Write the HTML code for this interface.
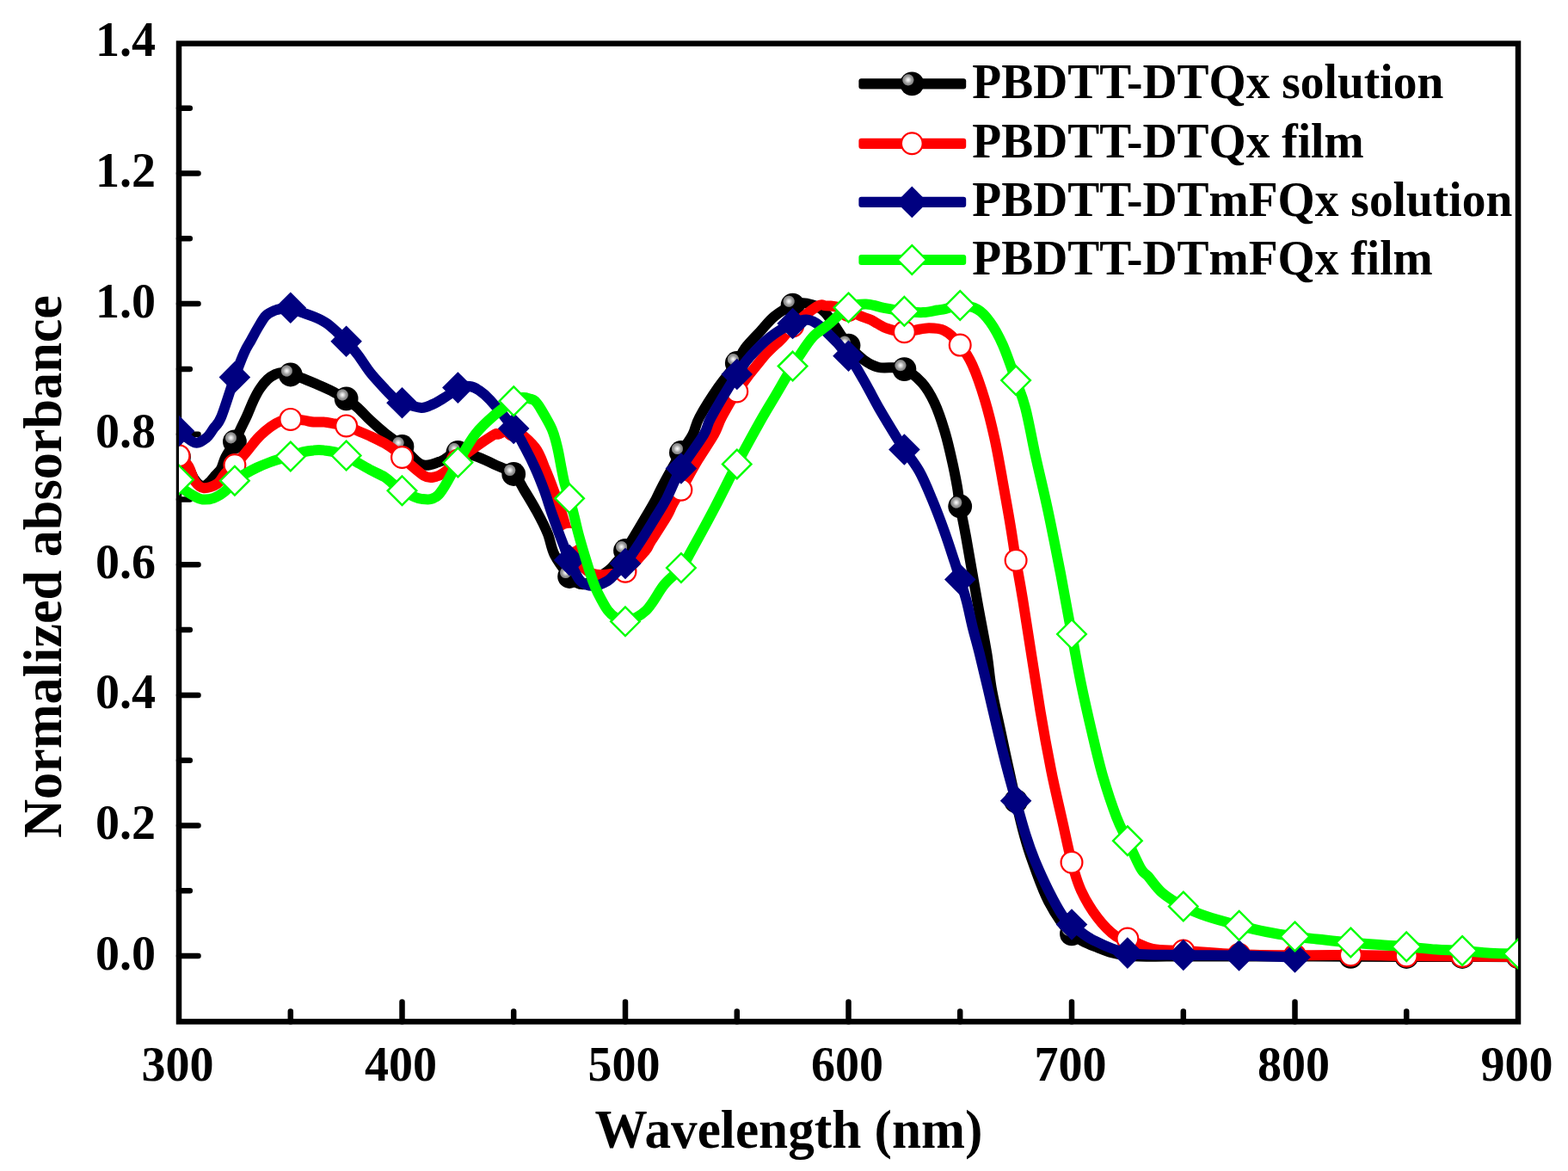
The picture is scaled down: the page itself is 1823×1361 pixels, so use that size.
<!DOCTYPE html>
<html><head><meta charset="utf-8"><title>Normalized absorbance vs wavelength</title>
<style>
html,body{margin:0;padding:0;background:#fff;}
svg{display:block;}
text{font-family:"Liberation Serif", "Times New Roman", serif;font-weight:bold;fill:#000;}
</style></head><body>
<svg width="1823" height="1361" viewBox="0 0 1823 1361">
<defs>
<radialGradient id="ball" cx="0.34" cy="0.34" r="0.25" fx="0.34" fy="0.34">
<stop offset="0" stop-color="#ffffff"/>
<stop offset="0.3" stop-color="#d4d4d4"/>
<stop offset="0.6" stop-color="#9c9c9c"/>
<stop offset="0.85" stop-color="#888888"/>
<stop offset="0.95" stop-color="#444"/>
<stop offset="1" stop-color="#000"/>
</radialGradient>
<clipPath id="plot"><rect x="208" y="50.6" width="1557" height="1136.8"/></clipPath>
</defs>
<rect x="0" y="0" width="1823" height="1361" fill="#fff"/>

<rect x="208.0" y="50.6" width="1557.0" height="1136.8" fill="none" stroke="#000" stroke-width="6.5"/>
<path d="M208.0,1111.1H230.5M208.0,1035.3H220.8M208.0,959.5H230.5M208.0,883.7H220.8M208.0,807.9H230.5M208.0,732.1H220.8M208.0,656.3H230.5M208.0,580.5H220.8M208.0,504.7H230.5M208.0,428.9H220.8M208.0,353.1H230.5M208.0,277.3H220.8M208.0,201.5H230.5M208.0,125.7H220.8M337.8,1187.4V1175.5M467.5,1187.4V1164.4M597.2,1187.4V1175.5M727.0,1187.4V1164.4M856.8,1187.4V1175.5M986.5,1187.4V1164.4M1116.2,1187.4V1175.5M1246.0,1187.4V1164.4M1375.8,1187.4V1175.5M1505.5,1187.4V1164.4M1635.2,1187.4V1175.5" stroke="#000" stroke-width="6.5" stroke-linecap="round" fill="none"/>
<g clip-path="url(#plot)">
<path d="M208.0,531.0 C209.7,532.7 215.0,536.7 218.0,541.0 C221.0,545.3 223.2,553.0 226.0,557.0 C228.8,561.0 232.2,564.3 235.0,565.0 C237.8,565.7 240.5,563.0 243.0,561.0 C245.5,559.0 247.7,555.7 250.0,553.0 C252.3,550.3 255.0,548.5 257.0,545.0 C259.0,541.5 259.5,537.0 262.0,532.0 C264.5,527.0 269.0,520.7 272.0,515.0 C275.0,509.3 277.5,503.3 280.0,498.0 C282.5,492.7 284.6,488.7 287.1,483.2 C289.6,477.7 292.4,470.2 294.9,465.0 C297.4,459.8 299.3,456.0 302.0,452.0 C304.7,448.0 308.0,443.8 311.0,441.0 C314.0,438.2 317.2,436.3 320.0,435.0 C322.8,433.7 325.0,432.9 328.0,433.0 C331.0,433.1 334.1,434.5 337.8,435.5 C341.4,436.5 344.7,437.2 350.0,439.2 C355.3,441.1 364.3,444.9 369.8,447.2 C375.3,449.5 379.4,451.4 383.0,453.1 C386.6,454.8 388.2,455.9 391.3,457.5 C394.4,459.1 397.5,459.9 401.6,462.7 C405.7,465.4 411.2,469.7 416.0,474.0 C420.8,478.3 425.3,483.6 430.4,488.4 C435.5,493.2 440.7,497.7 446.9,502.8 C453.0,507.9 460.3,512.8 467.5,519.0 C474.7,525.2 482.5,537.0 490.0,539.9 C497.5,542.8 505.8,538.4 512.4,536.1 C519.1,533.9 523.3,527.2 529.9,526.2 C536.6,525.1 544.9,527.6 552.4,529.9 C559.9,532.2 567.4,536.4 574.9,539.9 C582.4,543.4 591.4,546.0 597.2,551.0 C603.1,556.0 605.2,562.7 609.7,570.0 C614.2,577.3 619.9,586.7 624.4,595.0 C628.9,603.3 633.3,611.7 636.7,620.0 C640.1,628.3 640.6,636.7 644.8,645.0 C649.0,653.3 657.9,664.7 662.1,670.0 C666.3,675.3 667.0,675.5 670.0,677.0 C673.0,678.5 675.3,680.3 680.0,679.0 C684.7,677.7 693.0,672.5 698.2,669.3 C703.4,666.1 706.2,664.9 711.0,660.0 C715.8,655.1 720.3,650.0 727.0,640.0 C733.7,630.0 745.2,610.0 751.2,600.0 C757.2,590.0 759.1,586.7 762.7,580.0 C766.3,573.3 767.9,568.8 772.7,560.0 C777.5,551.2 785.8,536.2 791.3,527.0 C796.8,517.8 801.8,512.0 805.4,505.0 C809.0,498.0 808.2,494.2 813.2,485.0 C818.2,475.8 827.9,460.5 835.2,450.0 C842.5,439.5 851.6,429.5 856.8,422.0 C861.9,414.5 861.4,411.2 866.0,405.0 C870.6,398.8 878.4,391.2 884.1,385.0 C889.8,378.8 893.9,373.0 900.0,368.0 C906.1,363.0 914.7,357.6 921.0,355.0 C927.3,352.4 931.7,351.2 938.0,352.6 C944.3,354.0 951.2,355.3 959.0,363.1 C966.8,370.9 977.1,390.1 984.6,399.3 C992.1,408.5 997.9,413.5 1004.1,418.2 C1010.3,422.8 1014.1,425.3 1021.7,427.0 C1029.3,428.7 1041.3,425.5 1049.6,428.4 C1058.0,431.4 1065.5,438.0 1071.7,444.6 C1077.8,451.2 1082.0,458.8 1086.4,468.1 C1090.8,477.4 1094.7,489.2 1098.1,500.4 C1101.5,511.7 1104.5,524.9 1106.9,535.7 C1109.4,546.5 1111.3,556.8 1112.8,565.1 C1114.3,573.4 1114.0,575.9 1115.7,585.7 C1117.5,595.5 1119.6,604.8 1123.1,623.9 C1126.5,642.9 1132.3,677.3 1136.4,700.0 C1140.5,722.7 1144.7,743.3 1147.4,760.0 C1150.1,776.7 1150.1,785.0 1152.8,800.0 C1155.5,815.0 1160.2,835.0 1163.4,850.0 C1166.6,865.0 1169.0,876.5 1172.0,890.0 C1175.0,903.5 1178.0,917.7 1181.1,931.0 C1184.2,944.3 1187.4,958.5 1190.6,970.0 C1193.8,981.5 1195.3,987.2 1200.1,1000.2 C1204.8,1013.1 1211.6,1033.6 1219.0,1047.6 C1226.4,1061.5 1234.8,1074.9 1244.3,1083.9 C1253.8,1092.8 1264.8,1096.8 1275.9,1101.3 C1287.0,1105.7 1294.3,1109.0 1311.0,1110.7 C1327.6,1112.4 1354.3,1111.4 1376.0,1111.5 C1397.7,1111.6 1419.4,1111.5 1441.0,1111.5 C1462.6,1111.5 1484.0,1111.5 1505.5,1111.5 C1527.0,1111.5 1548.4,1111.7 1570.0,1111.8 C1591.6,1111.9 1613.3,1112.0 1635.0,1112.0 C1656.7,1112.0 1678.3,1112.0 1700.0,1112.0 C1721.7,1112.0 1754.2,1112.2 1765.0,1112.2" fill="none" stroke="#000000" stroke-width="12" stroke-linejoin="round" stroke-linecap="butt"/>
<circle cx="208.0" cy="531.0" r="13.9" fill="url(#ball)"/>
<circle cx="272.9" cy="513.3" r="13.9" fill="url(#ball)"/>
<circle cx="337.8" cy="435.5" r="13.9" fill="url(#ball)"/>
<circle cx="402.6" cy="463.4" r="13.9" fill="url(#ball)"/>
<circle cx="467.5" cy="519.0" r="13.9" fill="url(#ball)"/>
<circle cx="532.4" cy="525.9" r="13.9" fill="url(#ball)"/>
<circle cx="597.2" cy="551.0" r="13.9" fill="url(#ball)"/>
<circle cx="662.1" cy="670.0" r="13.9" fill="url(#ball)"/>
<circle cx="727.0" cy="640.0" r="13.9" fill="url(#ball)"/>
<circle cx="791.9" cy="526.0" r="13.9" fill="url(#ball)"/>
<circle cx="856.8" cy="422.0" r="13.9" fill="url(#ball)"/>
<circle cx="921.6" cy="354.7" r="13.9" fill="url(#ball)"/>
<circle cx="986.5" cy="401.6" r="13.9" fill="url(#ball)"/>
<circle cx="1051.4" cy="429.1" r="13.9" fill="url(#ball)"/>
<circle cx="1116.2" cy="588.5" r="13.9" fill="url(#ball)"/>
<circle cx="1181.1" cy="931.1" r="13.9" fill="url(#ball)"/>
<circle cx="1246.0" cy="1085.4" r="13.9" fill="url(#ball)"/>
<circle cx="1570.4" cy="1111.8" r="13.9" fill="url(#ball)"/>
<circle cx="1635.2" cy="1112.0" r="13.9" fill="url(#ball)"/>
<circle cx="1700.1" cy="1112.0" r="13.9" fill="url(#ball)"/>
<circle cx="1765.0" cy="1112.2" r="13.9" fill="url(#ball)"/>
<path d="M208.0,529.8 C209.8,531.8 215.9,536.8 219.0,541.7 C222.1,546.6 223.5,555.1 226.5,559.4 C229.5,563.7 232.6,566.9 237.0,567.3 C241.4,567.7 248.8,564.8 252.9,562.0 C257.0,559.2 258.4,554.1 261.7,550.5 C265.0,546.9 269.5,543.8 272.9,540.5 C276.3,537.2 278.8,534.3 282.0,530.6 C285.2,526.9 288.8,522.4 292.0,518.5 C295.2,514.6 297.6,511.1 301.3,507.4 C305.1,503.7 310.4,499.1 314.5,496.1 C318.6,493.1 322.3,491.0 326.0,489.5 C329.7,488.0 332.4,487.6 336.8,487.4 C341.2,487.2 347.6,487.9 352.2,488.4 C356.9,488.9 360.5,490.1 364.6,490.5 C368.7,490.8 372.8,490.1 376.9,490.5 C381.0,490.8 385.1,491.8 389.3,492.5 C393.4,493.2 397.1,493.2 401.6,494.6 C406.1,495.9 411.2,498.7 416.0,500.7 C420.8,502.8 425.3,504.5 430.4,506.9 C435.5,509.3 442.1,512.4 446.9,515.1 C451.7,517.9 455.9,520.8 459.2,523.4 C462.5,525.9 460.8,525.7 466.4,530.6 C472.0,535.5 486.3,548.9 492.9,552.8 C499.5,556.7 502.2,554.7 506.1,554.1 C510.0,553.5 511.7,552.6 516.1,549.4 C520.5,546.2 526.4,539.8 532.4,534.9 C538.5,530.0 545.3,524.9 552.4,519.9 C559.5,514.9 570.4,507.5 574.9,504.9 C579.4,502.4 575.7,505.6 579.4,504.7 C583.1,503.8 590.1,496.9 597.2,499.5 C604.4,502.1 616.0,512.4 622.1,520.0 C628.2,527.6 630.3,536.7 633.9,545.0 C637.5,553.3 640.7,561.7 643.8,570.0 C646.9,578.3 649.5,585.8 652.6,595.0 C655.7,604.2 659.0,617.3 662.1,625.0 C665.2,632.7 668.7,635.8 671.0,641.0 C673.3,646.2 673.7,652.0 676.0,656.0 C678.3,660.0 681.5,663.0 685.0,665.0 C688.5,667.0 692.8,667.7 697.0,668.0 C701.2,668.3 705.0,667.6 710.0,667.0 C715.0,666.4 720.3,668.8 727.0,664.3 C733.7,659.8 745.5,645.7 750.4,640.0 C755.3,634.3 752.1,636.7 756.3,630.0 C760.5,623.3 771.1,607.3 775.4,600.0 C779.7,592.7 779.2,591.4 782.0,586.3 C784.8,581.2 787.0,577.8 791.9,569.3 C796.8,560.8 804.8,545.7 811.2,535.0 C817.6,524.3 825.5,513.3 830.1,505.0 C834.8,496.7 834.7,493.3 839.1,485.0 C843.5,476.7 848.7,466.7 856.8,455.0 C864.8,443.3 878.7,425.3 887.5,415.0 C896.3,404.7 903.8,399.3 909.5,393.3 C915.2,387.3 914.9,385.2 921.6,379.0 C928.3,372.8 943.5,360.2 949.9,356.2 C956.2,352.2 956.0,355.1 959.7,355.2 C963.4,355.2 967.5,355.6 972.0,356.5 C976.5,357.4 982.0,358.8 986.5,360.5 C991.0,362.2 995.0,365.0 999.2,366.8 C1003.5,368.6 1008.5,370.0 1012.0,371.5 C1015.5,373.0 1016.8,374.3 1020.0,376.0 C1023.2,377.7 1026.2,380.1 1031.3,381.7 C1036.4,383.3 1042.8,385.9 1050.5,385.8 C1058.2,385.8 1069.6,381.7 1077.5,381.4 C1085.5,381.2 1091.7,381.2 1098.1,384.4 C1104.5,387.5 1110.4,393.9 1115.7,400.5 C1121.1,407.1 1125.5,413.3 1130.4,424.0 C1135.3,434.8 1140.7,450.5 1145.1,465.2 C1149.5,479.9 1153.5,496.5 1156.9,512.2 C1160.3,527.9 1162.8,543.0 1165.7,559.2 C1168.6,575.4 1172.0,594.0 1174.5,609.2 C1177.1,624.3 1178.5,635.6 1181.0,650.3 C1183.4,665.0 1184.4,668.0 1189.2,697.3 C1194.0,726.7 1204.0,793.3 1209.5,826.4 C1215.0,859.5 1218.0,874.8 1222.2,895.9 C1226.4,917.0 1230.9,935.1 1234.8,952.8 C1238.8,970.4 1242.2,988.0 1245.9,1001.7 C1249.6,1015.4 1251.9,1024.1 1256.9,1034.9 C1261.9,1045.7 1269.0,1057.6 1275.9,1066.5 C1282.7,1075.5 1292.2,1084.5 1298.0,1088.6 C1303.9,1092.7 1304.0,1088.6 1311.0,1091.0 C1318.0,1093.4 1329.2,1100.5 1340.0,1102.8 C1350.9,1105.2 1359.2,1103.9 1376.0,1105.0 C1392.8,1106.1 1419.5,1108.4 1441.0,1109.3 C1462.5,1110.2 1483.5,1110.2 1505.0,1110.3 C1526.5,1110.4 1548.3,1109.9 1570.0,1110.0 C1591.7,1110.1 1613.3,1110.8 1635.0,1111.0 C1656.7,1111.2 1678.3,1111.3 1700.0,1111.5 C1721.7,1111.7 1754.2,1111.9 1765.0,1112.0" fill="none" stroke="#ff0000" stroke-width="12" stroke-linejoin="round" stroke-linecap="butt"/>
<circle cx="208.0" cy="529.8" r="12.4" fill="#fff" stroke="#ff0000" stroke-width="2.2"/>
<circle cx="272.9" cy="540.5" r="12.4" fill="#fff" stroke="#ff0000" stroke-width="2.2"/>
<circle cx="337.8" cy="487.4" r="12.4" fill="#fff" stroke="#ff0000" stroke-width="2.2"/>
<circle cx="402.6" cy="494.9" r="12.4" fill="#fff" stroke="#ff0000" stroke-width="2.2"/>
<circle cx="467.5" cy="531.5" r="12.4" fill="#fff" stroke="#ff0000" stroke-width="2.2"/>
<circle cx="532.4" cy="534.9" r="12.4" fill="#fff" stroke="#ff0000" stroke-width="2.2"/>
<circle cx="597.2" cy="499.5" r="12.4" fill="#fff" stroke="#ff0000" stroke-width="2.2"/>
<circle cx="662.1" cy="625.1" r="12.4" fill="#fff" stroke="#ff0000" stroke-width="2.2"/>
<circle cx="727.0" cy="664.3" r="12.4" fill="#fff" stroke="#ff0000" stroke-width="2.2"/>
<circle cx="791.9" cy="569.3" r="12.4" fill="#fff" stroke="#ff0000" stroke-width="2.2"/>
<circle cx="856.8" cy="455.0" r="12.4" fill="#fff" stroke="#ff0000" stroke-width="2.2"/>
<circle cx="921.6" cy="379.0" r="12.4" fill="#fff" stroke="#ff0000" stroke-width="2.2"/>
<circle cx="986.5" cy="360.5" r="12.4" fill="#fff" stroke="#ff0000" stroke-width="2.2"/>
<circle cx="1051.4" cy="385.8" r="12.4" fill="#fff" stroke="#ff0000" stroke-width="2.2"/>
<circle cx="1116.2" cy="401.1" r="12.4" fill="#fff" stroke="#ff0000" stroke-width="2.2"/>
<circle cx="1181.1" cy="651.2" r="12.4" fill="#fff" stroke="#ff0000" stroke-width="2.2"/>
<circle cx="1246.0" cy="1002.2" r="12.4" fill="#fff" stroke="#ff0000" stroke-width="2.2"/>
<circle cx="1310.9" cy="1091.0" r="12.4" fill="#fff" stroke="#ff0000" stroke-width="2.2"/>
<circle cx="1375.8" cy="1105.0" r="12.4" fill="#fff" stroke="#ff0000" stroke-width="2.2"/>
<circle cx="1440.6" cy="1109.3" r="12.4" fill="#fff" stroke="#ff0000" stroke-width="2.2"/>
<circle cx="1505.5" cy="1110.3" r="12.4" fill="#fff" stroke="#ff0000" stroke-width="2.2"/>
<circle cx="1570.4" cy="1110.0" r="12.4" fill="#fff" stroke="#ff0000" stroke-width="2.2"/>
<circle cx="1635.2" cy="1111.0" r="12.4" fill="#fff" stroke="#ff0000" stroke-width="2.2"/>
<circle cx="1700.1" cy="1111.5" r="12.4" fill="#fff" stroke="#ff0000" stroke-width="2.2"/>
<circle cx="1765.0" cy="1112.0" r="12.4" fill="#fff" stroke="#ff0000" stroke-width="2.2"/>
<path d="M208.0,501.0 C211.1,503.2 221.2,513.0 226.5,514.4 C231.7,515.7 236.0,511.9 239.7,509.1 C243.4,506.3 245.6,501.8 248.5,497.6 C251.4,493.5 253.2,494.3 257.3,484.4 C261.4,474.5 268.6,450.4 273.0,438.0 C277.5,425.6 280.8,417.0 283.9,410.0 C287.0,403.0 288.9,400.8 291.7,395.8 C294.4,390.8 297.5,384.8 300.4,380.0 C303.3,375.2 305.9,370.2 309.0,367.0 C312.2,363.8 316.2,362.2 319.3,360.9 C322.4,359.5 324.5,359.3 327.5,358.8 C330.6,358.3 333.6,357.1 337.4,357.8 C341.2,358.5 345.6,361.2 350.2,362.9 C354.7,364.6 359.8,366.0 364.6,368.1 C369.4,370.1 374.5,372.3 379.0,375.3 C383.4,378.2 387.4,381.9 391.3,385.5 C395.3,389.1 398.5,392.4 402.6,396.9 C406.7,401.3 411.4,406.3 416.0,412.3 C420.6,418.3 425.3,426.3 430.4,432.9 C435.5,439.4 442.1,446.2 446.9,451.4 C451.7,456.5 455.9,461.0 459.2,463.7 C462.5,466.5 461.3,466.1 466.4,467.8 C471.5,469.5 483.7,473.6 489.8,473.9 C495.9,474.2 499.2,471.5 503.1,469.9 C507.0,468.3 509.7,466.5 513.0,464.5 C516.3,462.5 519.8,460.3 523.0,458.0 C526.2,455.7 528.6,452.1 532.4,450.6 C536.2,449.1 542.1,448.6 546.0,449.0 C549.9,449.4 552.0,450.4 556.0,453.1 C560.0,455.8 563.0,457.5 569.9,465.0 C576.8,472.4 590.5,488.8 597.2,498.0 C604.0,507.2 606.0,512.2 610.2,520.0 C614.4,527.8 618.9,536.7 622.6,545.0 C626.4,553.3 629.6,561.7 632.7,570.0 C635.8,578.3 638.1,586.7 641.0,595.0 C643.9,603.3 647.4,613.0 650.0,620.0 C652.6,627.0 654.5,631.8 656.5,637.0 C658.5,642.2 659.1,644.7 662.1,651.0 C665.1,657.3 670.0,670.0 674.6,675.0 C679.2,680.0 684.7,681.0 690.0,681.0 C695.3,681.0 702.3,677.5 706.6,675.0 C710.9,672.5 712.6,669.3 716.0,666.0 C719.4,662.7 722.3,661.0 727.0,655.0 C731.7,649.0 738.2,639.2 744.2,630.0 C750.2,620.8 757.7,608.3 762.8,600.0 C767.9,591.7 769.9,589.2 774.8,580.0 C779.6,570.8 784.6,557.0 791.9,544.5 C799.1,532.0 812.5,514.9 818.3,505.0 C824.1,495.1 820.4,496.7 826.8,485.0 C833.2,473.3 849.3,446.7 856.8,435.0 C864.2,423.3 865.1,422.2 871.5,415.0 C877.9,407.8 886.6,398.5 895.0,392.0 C903.4,385.5 913.9,379.3 921.6,376.0 C929.3,372.7 934.8,370.7 941.0,372.0 C947.2,373.3 951.4,377.0 959.0,384.0 C966.6,391.0 979.0,404.2 986.5,413.8 C994.0,423.4 998.2,431.6 1004.1,441.7 C1009.9,451.7 1015.8,463.7 1021.7,474.0 C1027.6,484.3 1034.4,495.3 1039.3,503.4 C1044.3,511.5 1046.5,515.1 1051.4,522.5 C1056.3,529.8 1063.4,537.9 1068.7,547.5 C1074.1,557.0 1078.5,568.0 1083.4,579.8 C1088.3,591.5 1093.7,605.7 1098.1,618.0 C1102.5,630.2 1106.8,643.9 1109.9,653.2 C1112.9,662.5 1114.0,666.0 1116.3,673.8 C1118.7,681.6 1121.7,690.6 1124.1,700.0 C1126.5,709.4 1128.5,720.0 1131.0,730.0 C1133.5,740.0 1136.0,748.3 1138.9,760.0 C1141.8,771.7 1145.0,785.0 1148.5,800.0 C1152.0,815.0 1156.6,835.0 1160.2,850.0 C1163.8,865.0 1166.5,876.6 1170.0,890.0 C1173.5,903.4 1177.4,917.3 1181.1,930.6 C1184.8,943.9 1188.7,958.4 1192.4,970.0 C1196.1,981.6 1198.8,989.3 1203.2,1000.2 C1207.7,1011.0 1213.8,1024.4 1219.0,1034.9 C1224.3,1045.4 1230.3,1056.8 1234.8,1063.3 C1239.3,1069.9 1240.1,1069.7 1245.9,1074.4 C1251.7,1079.1 1258.7,1086.3 1269.6,1091.8 C1280.4,1097.3 1293.2,1104.5 1311.0,1107.6 C1328.7,1110.6 1354.4,1109.5 1376.0,1110.0 C1397.6,1110.5 1419.0,1110.1 1440.6,1110.5 C1462.2,1110.9 1494.7,1112.2 1505.5,1112.5" fill="none" stroke="#000080" stroke-width="12" stroke-linejoin="round" stroke-linecap="butt"/>
<path d="M208.0,482.7L226.3,501.0L208.0,519.3L189.7,501.0Z" fill="#000080"/>
<path d="M272.9,420.1L291.2,438.4L272.9,456.7L254.6,438.4Z" fill="#000080"/>
<path d="M337.8,339.5L356.1,357.8L337.8,376.1L319.4,357.8Z" fill="#000080"/>
<path d="M402.6,378.5L420.9,396.8L402.6,415.1L384.3,396.8Z" fill="#000080"/>
<path d="M467.5,449.9L485.8,468.2L467.5,486.5L449.2,468.2Z" fill="#000080"/>
<path d="M532.4,432.3L550.7,450.6L532.4,468.9L514.1,450.6Z" fill="#000080"/>
<path d="M597.2,479.7L615.5,498.0L597.2,516.3L579.0,498.0Z" fill="#000080"/>
<path d="M662.1,632.8L680.4,651.1L662.1,669.4L643.8,651.1Z" fill="#000080"/>
<path d="M727.0,636.7L745.3,655.0L727.0,673.3L708.7,655.0Z" fill="#000080"/>
<path d="M791.9,526.2L810.2,544.5L791.9,562.8L773.6,544.5Z" fill="#000080"/>
<path d="M856.8,416.7L875.0,435.0L856.8,453.3L838.5,435.0Z" fill="#000080"/>
<path d="M921.6,357.7L939.9,376.0L921.6,394.3L903.3,376.0Z" fill="#000080"/>
<path d="M986.5,395.5L1004.8,413.8L986.5,432.1L968.2,413.8Z" fill="#000080"/>
<path d="M1051.4,504.2L1069.7,522.5L1051.4,540.8L1033.1,522.5Z" fill="#000080"/>
<path d="M1116.2,655.2L1134.5,673.5L1116.2,691.8L1098.0,673.5Z" fill="#000080"/>
<path d="M1181.1,912.4L1199.4,930.7L1181.1,949.0L1162.8,930.7Z" fill="#000080"/>
<path d="M1246.0,1056.2L1264.3,1074.5L1246.0,1092.8L1227.7,1074.5Z" fill="#000080"/>
<path d="M1310.9,1089.3L1329.2,1107.6L1310.9,1125.9L1292.6,1107.6Z" fill="#000080"/>
<path d="M1375.8,1091.7L1394.0,1110.0L1375.8,1128.3L1357.5,1110.0Z" fill="#000080"/>
<path d="M1440.6,1092.2L1458.9,1110.5L1440.6,1128.8L1422.3,1110.5Z" fill="#000080"/>
<path d="M1505.5,1094.2L1523.8,1112.5L1505.5,1130.8L1487.2,1112.5Z" fill="#000080"/>
<path d="M208.0,557.6 C208.9,559.4 210.1,565.0 213.2,568.2 C216.3,571.4 222.8,575.0 226.5,577.0 C230.2,579.0 231.6,580.2 235.3,580.5 C239.0,580.8 244.1,580.4 248.5,578.8 C252.9,577.2 257.6,574.2 261.7,570.8 C265.8,567.4 268.9,562.1 273.0,558.6 C277.1,555.1 282.1,552.5 286.4,550.0 C290.7,547.5 294.2,545.6 298.7,543.5 C303.1,541.4 308.6,539.2 313.1,537.5 C317.6,535.8 321.4,534.7 325.5,533.5 C329.6,532.3 333.0,531.9 337.4,530.6 C341.9,529.2 347.7,526.6 352.2,525.4 C356.8,524.2 360.5,523.7 364.6,523.4 C368.7,523.0 372.8,523.0 376.9,523.4 C381.0,523.7 385.0,524.4 389.3,525.4 C393.5,526.5 398.2,527.5 402.6,529.5 C407.1,531.6 411.4,535.0 416.0,537.8 C420.6,540.5 425.3,543.3 430.4,546.0 C435.5,548.7 442.4,551.5 446.9,554.2 C451.3,557.0 453.9,559.9 457.1,562.5 C460.4,565.0 460.9,566.8 466.4,569.7 C471.9,572.6 482.7,579.0 490.0,579.9 C497.2,580.7 502.9,581.9 509.9,574.9 C517.0,567.8 525.4,549.1 532.4,537.4 C539.5,525.7 545.3,514.1 552.4,504.9 C559.5,495.8 567.4,488.9 574.9,482.4 C582.4,476.0 591.7,469.6 597.2,466.2 C602.8,462.8 604.9,462.4 608.0,462.0 C611.1,461.6 613.7,462.8 616.0,463.5 C618.3,464.2 619.9,464.0 622.0,466.0 C624.1,468.0 625.5,469.8 628.8,475.3 C632.1,480.8 638.5,491.4 641.7,498.8 C644.9,506.2 646.1,512.3 648.0,520.0 C649.9,527.7 651.5,538.0 652.9,545.0 C654.3,552.0 655.0,556.3 656.5,562.0 C658.0,567.7 660.2,572.9 662.1,579.2 C664.0,585.5 665.9,593.2 667.6,600.0 C669.3,606.8 670.1,611.7 672.4,620.0 C674.6,628.3 678.3,640.8 681.1,650.0 C683.9,659.2 686.8,668.5 689.1,675.0 C691.4,681.5 692.1,683.3 695.0,689.0 C697.9,694.7 703.0,704.5 706.5,709.3 C710.0,714.1 712.6,715.8 716.0,718.0 C719.4,720.2 721.1,723.7 727.0,722.3 C732.9,720.9 743.7,716.6 751.2,709.5 C758.8,702.4 765.5,687.6 772.3,679.4 C779.1,671.1 786.6,666.6 791.9,660.0 C797.2,653.4 797.4,651.7 803.9,640.0 C810.4,628.3 822.2,606.8 831.0,590.0 C839.8,573.2 848.0,556.1 856.8,539.4 C865.5,522.7 876.2,503.4 883.7,490.0 C891.2,476.6 895.8,469.6 902.0,459.0 C908.2,448.4 915.6,435.5 921.1,426.5 C926.6,417.5 930.8,411.1 935.0,405.0 C939.2,398.9 942.0,394.5 946.5,390.0 C951.0,385.5 955.3,383.6 962.0,378.2 C968.7,372.8 979.0,361.6 986.5,357.5 C994.0,353.4 1000.2,353.4 1007.0,353.5 C1013.9,353.6 1020.2,356.5 1027.6,357.9 C1035.0,359.3 1043.8,360.9 1051.4,361.8 C1059.0,362.7 1066.8,363.3 1073.2,363.1 C1079.6,362.9 1085.4,361.2 1089.8,360.5 C1094.2,359.8 1095.3,359.7 1099.7,358.8 C1104.1,357.9 1110.2,354.9 1116.3,355.0 C1122.4,355.1 1130.5,356.2 1136.3,359.4 C1142.1,362.6 1146.1,367.2 1151.0,374.1 C1155.9,380.9 1160.7,389.3 1165.7,400.5 C1170.7,411.8 1176.6,429.4 1181.0,441.7 C1185.4,453.9 1188.3,459.3 1192.1,474.0 C1196.0,488.7 1199.5,509.7 1203.9,529.8 C1208.3,549.9 1213.7,571.5 1218.6,594.5 C1223.5,617.5 1228.7,644.3 1233.3,667.9 C1237.8,691.6 1241.9,715.2 1245.9,736.3 C1249.8,757.5 1253.0,775.6 1256.9,794.8 C1260.9,814.0 1265.4,833.8 1269.6,851.7 C1273.8,869.6 1277.5,885.9 1282.2,902.2 C1287.0,918.5 1293.2,937.1 1298.0,949.6 C1302.8,962.1 1306.2,967.4 1311.0,977.4 C1315.7,987.4 1322.5,1002.8 1326.4,1009.6 C1330.4,1016.5 1330.7,1013.9 1334.9,1018.6 C1339.0,1023.3 1344.5,1031.9 1351.3,1037.8 C1358.2,1043.6 1367.3,1049.1 1376.0,1053.7 C1384.7,1058.2 1392.7,1061.5 1403.4,1065.2 C1414.2,1068.9 1429.0,1072.6 1440.4,1075.6 C1451.9,1078.6 1461.1,1080.9 1472.0,1083.0 C1482.8,1085.2 1494.1,1086.9 1505.5,1088.5 C1516.9,1090.1 1529.8,1091.3 1540.6,1092.5 C1551.4,1093.7 1559.9,1094.6 1570.4,1095.5 C1580.9,1096.4 1592.8,1097.3 1603.6,1098.1 C1614.4,1098.9 1624.2,1099.4 1635.2,1100.3 C1646.2,1101.2 1658.6,1102.8 1669.5,1103.6 C1680.3,1104.4 1689.7,1104.3 1700.2,1105.0 C1710.7,1105.7 1721.8,1107.1 1732.6,1107.7 C1743.3,1108.3 1759.5,1108.4 1764.9,1108.5" fill="none" stroke="#00ff00" stroke-width="12" stroke-linejoin="round" stroke-linecap="butt"/>
<path d="M208.0,540.8L224.8,557.6L208.0,574.4L191.2,557.6Z" fill="#fff" stroke="#00ff00" stroke-width="2.4" stroke-linejoin="miter"/>
<path d="M272.9,541.9L289.7,558.7L272.9,575.5L256.1,558.7Z" fill="#fff" stroke="#00ff00" stroke-width="2.4" stroke-linejoin="miter"/>
<path d="M337.8,513.7L354.6,530.5L337.8,547.3L320.9,530.5Z" fill="#fff" stroke="#00ff00" stroke-width="2.4" stroke-linejoin="miter"/>
<path d="M402.6,512.7L419.4,529.5L402.6,546.3L385.8,529.5Z" fill="#fff" stroke="#00ff00" stroke-width="2.4" stroke-linejoin="miter"/>
<path d="M467.5,553.5L484.3,570.3L467.5,587.1L450.7,570.3Z" fill="#fff" stroke="#00ff00" stroke-width="2.4" stroke-linejoin="miter"/>
<path d="M532.4,520.7L549.2,537.5L532.4,554.3L515.6,537.5Z" fill="#fff" stroke="#00ff00" stroke-width="2.4" stroke-linejoin="miter"/>
<path d="M597.2,449.4L614.0,466.2L597.2,483.0L580.5,466.2Z" fill="#fff" stroke="#00ff00" stroke-width="2.4" stroke-linejoin="miter"/>
<path d="M662.1,562.5L678.9,579.3L662.1,596.1L645.3,579.3Z" fill="#fff" stroke="#00ff00" stroke-width="2.4" stroke-linejoin="miter"/>
<path d="M727.0,705.5L743.8,722.3L727.0,739.1L710.2,722.3Z" fill="#fff" stroke="#00ff00" stroke-width="2.4" stroke-linejoin="miter"/>
<path d="M791.9,643.2L808.7,660.0L791.9,676.8L775.1,660.0Z" fill="#fff" stroke="#00ff00" stroke-width="2.4" stroke-linejoin="miter"/>
<path d="M856.8,522.6L873.5,539.4L856.8,556.2L840.0,539.4Z" fill="#fff" stroke="#00ff00" stroke-width="2.4" stroke-linejoin="miter"/>
<path d="M921.6,408.8L938.4,425.6L921.6,442.4L904.8,425.6Z" fill="#fff" stroke="#00ff00" stroke-width="2.4" stroke-linejoin="miter"/>
<path d="M986.5,340.7L1003.3,357.5L986.5,374.3L969.7,357.5Z" fill="#fff" stroke="#00ff00" stroke-width="2.4" stroke-linejoin="miter"/>
<path d="M1051.4,345.0L1068.2,361.8L1051.4,378.6L1034.6,361.8Z" fill="#fff" stroke="#00ff00" stroke-width="2.4" stroke-linejoin="miter"/>
<path d="M1116.2,338.2L1133.0,355.0L1116.2,371.8L1099.5,355.0Z" fill="#fff" stroke="#00ff00" stroke-width="2.4" stroke-linejoin="miter"/>
<path d="M1181.1,425.3L1197.9,442.1L1181.1,458.9L1164.3,442.1Z" fill="#fff" stroke="#00ff00" stroke-width="2.4" stroke-linejoin="miter"/>
<path d="M1246.0,720.2L1262.8,737.0L1246.0,753.8L1229.2,737.0Z" fill="#fff" stroke="#00ff00" stroke-width="2.4" stroke-linejoin="miter"/>
<path d="M1310.9,960.4L1327.7,977.2L1310.9,994.0L1294.1,977.2Z" fill="#fff" stroke="#00ff00" stroke-width="2.4" stroke-linejoin="miter"/>
<path d="M1375.8,1036.7L1392.5,1053.5L1375.8,1070.3L1359.0,1053.5Z" fill="#fff" stroke="#00ff00" stroke-width="2.4" stroke-linejoin="miter"/>
<path d="M1440.6,1058.9L1457.4,1075.7L1440.6,1092.5L1423.8,1075.7Z" fill="#fff" stroke="#00ff00" stroke-width="2.4" stroke-linejoin="miter"/>
<path d="M1505.5,1071.7L1522.3,1088.5L1505.5,1105.3L1488.7,1088.5Z" fill="#fff" stroke="#00ff00" stroke-width="2.4" stroke-linejoin="miter"/>
<path d="M1570.4,1078.7L1587.2,1095.5L1570.4,1112.3L1553.6,1095.5Z" fill="#fff" stroke="#00ff00" stroke-width="2.4" stroke-linejoin="miter"/>
<path d="M1635.2,1083.5L1652.0,1100.3L1635.2,1117.1L1618.5,1100.3Z" fill="#fff" stroke="#00ff00" stroke-width="2.4" stroke-linejoin="miter"/>
<path d="M1700.1,1088.2L1716.9,1105.0L1700.1,1121.8L1683.3,1105.0Z" fill="#fff" stroke="#00ff00" stroke-width="2.4" stroke-linejoin="miter"/>
<path d="M1765.0,1091.7L1781.8,1108.5L1765.0,1125.3L1748.2,1108.5Z" fill="#fff" stroke="#00ff00" stroke-width="2.4" stroke-linejoin="miter"/>
</g>
<text x="181" y="1126.6" font-size="56" text-anchor="end">0.0</text>
<text x="181" y="975.0" font-size="56" text-anchor="end">0.2</text>
<text x="181" y="823.4" font-size="56" text-anchor="end">0.4</text>
<text x="181" y="671.8" font-size="56" text-anchor="end">0.6</text>
<text x="181" y="520.2" font-size="56" text-anchor="end">0.8</text>
<text x="181" y="368.6" font-size="56" text-anchor="end">1.0</text>
<text x="181" y="217.0" font-size="56" text-anchor="end">1.2</text>
<text x="181" y="65.4" font-size="56" text-anchor="end">1.4</text>
<text x="206.5" y="1255.5" font-size="56" text-anchor="middle">300</text>
<text x="466.0" y="1255.5" font-size="56" text-anchor="middle">400</text>
<text x="725.5" y="1255.5" font-size="56" text-anchor="middle">500</text>
<text x="985.0" y="1255.5" font-size="56" text-anchor="middle">600</text>
<text x="1244.5" y="1255.5" font-size="56" text-anchor="middle">700</text>
<text x="1504.0" y="1255.5" font-size="56" text-anchor="middle">800</text>
<text x="1763.5" y="1255.5" font-size="56" text-anchor="middle">900</text>
<text x="691.5" y="1334.4" font-size="64" textLength="451" lengthAdjust="spacingAndGlyphs">Wavelength (nm)</text>
<text transform="translate(71.2,974) rotate(-90)" x="0" y="0" font-size="64" textLength="631" lengthAdjust="spacingAndGlyphs">Normalized absorbance</text>
<rect x="998.4" y="91.2" width="124.8" height="12.2" rx="3" fill="#000000"/>
<circle cx="1060.3" cy="97.3" r="13.9" fill="url(#ball)"/>
<text transform="translate(1130.3,114.0) scale(0.973,1)" font-size="57">PBDTT-DTQx solution</text>
<rect x="998.4" y="160.7" width="124.8" height="12.2" rx="3" fill="#ff0000"/>
<circle cx="1060.3" cy="166.8" r="12.4" fill="#fff" stroke="#ff0000" stroke-width="2.2"/>
<text transform="translate(1130.3,183.4) scale(0.973,1)" font-size="57">PBDTT-DTQx film</text>
<rect x="998.4" y="228.8" width="124.8" height="12.2" rx="3" fill="#000080"/>
<path d="M1060.3,216.6L1078.6,234.9L1060.3,253.2L1042.0,234.9Z" fill="#000080"/>
<text transform="translate(1130.3,250.6) scale(0.973,1)" font-size="57">PBDTT-DTmFQx solution</text>
<rect x="998.4" y="295.9" width="124.8" height="12.2" rx="3" fill="#00ff00"/>
<path d="M1060.3,285.2L1077.1,302.0L1060.3,318.8L1043.5,302.0Z" fill="#fff" stroke="#00ff00" stroke-width="2.4" stroke-linejoin="miter"/>
<text transform="translate(1130.3,318.9) scale(0.973,1)" font-size="57">PBDTT-DTmFQx film</text>
</svg>
</body></html>
